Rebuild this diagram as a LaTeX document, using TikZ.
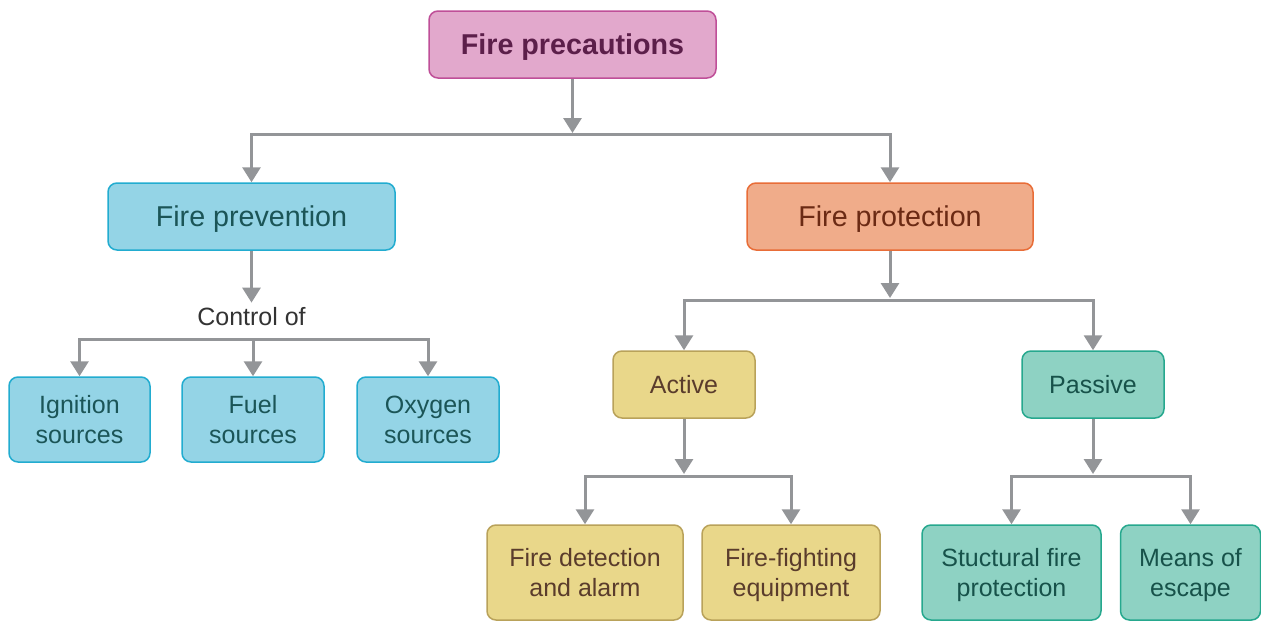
\documentclass[tikz,border=0pt]{standalone}
\usepackage{fontspec}
\setmainfont{Liberation Sans}
\usetikzlibrary{arrows.meta}
\definecolor{linegray}{HTML}{939598}
\definecolor{pfill}{HTML}{E2A8CC}\definecolor{pdraw}{HTML}{BF4F98}\definecolor{ptext}{HTML}{5C1F4A}
\definecolor{bfill}{HTML}{94D4E6}\definecolor{bdraw}{HTML}{22ACD0}\definecolor{btext}{HTML}{1B5557}
\definecolor{ofill}{HTML}{F0AC8A}\definecolor{odraw}{HTML}{E86D38}\definecolor{otext}{HTML}{6B2A14}
\definecolor{yfill}{HTML}{E9D78A}\definecolor{ydraw}{HTML}{B9A25A}\definecolor{ytext}{HTML}{5A3C2C}
\definecolor{gfill}{HTML}{8ED2C3}\definecolor{gdraw}{HTML}{26A88E}\definecolor{gtext}{HTML}{17524A}
\begin{document}
\begin{tikzpicture}[x=1pt,y=-1pt,
  box/.style={rounded corners=9pt, line width=1.5pt, inner sep=0pt, align=center,
    text depth=0pt, font=\fontsize{25}{30}\selectfont},
  bigbox/.style={box, text height=20.5pt, font=\fontsize{28.7}{34}\selectfont},
  purplebox/.style={fill=pfill, draw=pdraw, text=ptext},
  bluebox/.style={fill=bfill, draw=bdraw, text=btext},
  orangebox/.style={fill=ofill, draw=odraw, text=otext},
  yellowbox/.style={fill=yfill, draw=ydraw, text=ytext},
  greenbox/.style={fill=gfill, draw=gdraw, text=gtext},
  conn/.style={draw=linegray, line width=3pt, -{Triangle[width=18pt,length=15pt]}},
  bar/.style={draw=linegray, line width=3pt}]
\useasboundingbox (0,0) rectangle (1261,621);

% nodes
\node[bigbox, purplebox, minimum width=287pt, minimum height=67pt] (top) at (572.5,44.5) {\bfseries Fire precautions};
\node[bigbox, bluebox, minimum width=287pt, minimum height=67pt] (prev) at (251.5,216.5) {Fire prevention};
\node[bigbox, orangebox, minimum width=286pt, minimum height=67pt] (prot) at (890,216.5) {Fire protection};

\node[font=\fontsize{25}{30}\selectfont, text=black!80, inner sep=5pt] (ctrl) at (251.5,317) {Control of};

\node[box, bluebox, minimum width=141pt, minimum height=85pt] (ign) at (79.5,419.5) {Ignition\\sources};
\node[box, bluebox, minimum width=142pt, minimum height=85pt] (fuel) at (253,419.5) {Fuel\\sources};
\node[box, bluebox, minimum width=142pt, minimum height=85pt] (oxy) at (428,419.5) {Oxygen\\sources};

\node[box, yellowbox, minimum width=142pt, minimum height=67pt] (act) at (684,384.5) {Active};
\node[box, greenbox, minimum width=142pt, minimum height=67pt] (pas) at (1093,384.5) {Passive};

\node[box, yellowbox, minimum width=196pt, minimum height=95pt] (det) at (585,572.5) {Fire detection\\and alarm};
\node[box, yellowbox, minimum width=178pt, minimum height=95pt] (fight) at (791,572.5) {Fire-fighting\\equipment};
\node[box, greenbox, minimum width=179pt, minimum height=95pt] (struct) at (1011.5,572.5) {Stuctural fire\\protection};
\node[box, greenbox, minimum width=140pt, minimum height=95pt] (esc) at (1190.5,572.5) {Means of\\escape};

% junction coordinates
\coordinate (j1) at (572.5,133);
\coordinate (b1) at (572.5,134);
\coordinate (j2) at (251.5,339);
\coordinate (j3) at (890,298);
\coordinate (b3) at (890,300);
\coordinate (j4) at (684,474);
\coordinate (b4) at (684,476);
\coordinate (j5) at (1093,474);
\coordinate (b5) at (1093,476);

% connectors
\draw[conn] (top.south) -- (j1);
\draw[conn] (b1) -| (prev.north);
\draw[conn] (b1) -| (prot.north);

\draw[conn] (prev.south) -- (ctrl.north);
\draw[conn] (j2) -| (ign.north);
\draw[conn] (fuel.north |- j2) -- (fuel.north);
\draw[conn] (j2) -| (oxy.north);

\draw[conn] (prot.south) -- (j3);
\draw[conn] (b3) -| (act.north);
\draw[conn] (b3) -| (pas.north);

\draw[conn] (act.south) -- (j4);
\draw[conn] (b4) -| (det.north);
\draw[conn] (b4) -| (fight.north);

\draw[conn] (pas.south) -- (j5);
\draw[conn] (b5) -| (struct.north);
\draw[conn] (b5) -| (esc.north);
\end{tikzpicture}
\end{document}
